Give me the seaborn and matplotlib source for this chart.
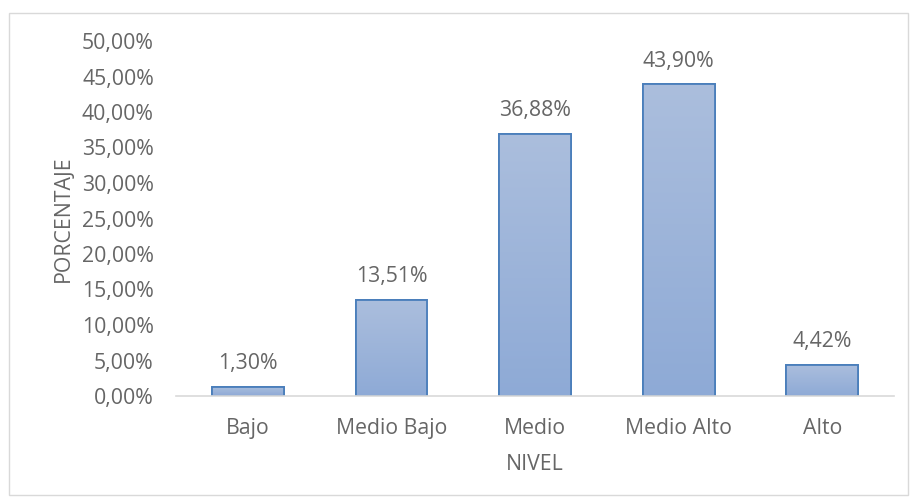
import numpy as np
import pandas as pd
import matplotlib
matplotlib.use("Agg")
import matplotlib.pyplot as plt
from matplotlib.colors import LinearSegmentedColormap
from matplotlib.patches import Rectangle
import seaborn as sns

categories = ["Bajo", "Medio Bajo", "Medio", "Medio Alto", "Alto"]
values = [1.30, 13.51, 36.88, 43.90, 4.42]
yticks = [0, 5, 10, 15, 20, 25, 30, 35, 40, 45, 50]

sns.set_theme(style="white")
plt.rcParams["font.family"] = ["Open Sans", "DejaVu Sans"]

text_color = "#666666"
fs = 15.3
df = pd.DataFrame({"nivel": categories, "pct": values})

fig = plt.figure(figsize=(9.11, 5.01), dpi=100)
ax = fig.add_axes([176 / 911, 1 - 396 / 501, 718 / 911, 355 / 501])

sns.barplot(data=df, x="nivel", y="pct", ax=ax, width=0.5,
            color="#9db3d9", edgecolor="#4a7ebb", linewidth=1.3,
            saturation=1)

# vertical gradient fill on each bar
grad = LinearSegmentedColormap.from_list("g", ["#8eaad6", "#abbedd"])
ramp = np.linspace(0, 1, 256).reshape(-1, 1)
for p in ax.patches:
    x0, y0 = p.get_x(), p.get_y()
    w, h = p.get_width(), p.get_height()
    im = ax.imshow(ramp, cmap=grad, aspect="auto", origin="lower",
                   extent=[x0, x0 + w, y0, y0 + h], zorder=p.get_zorder() + 0.1)
    im.set_clip_path(p)
    ax.add_patch(Rectangle((x0, y0), w, h, fill=False, edgecolor="#4a7ebb",
                           linewidth=1.3, zorder=p.get_zorder() + 0.2))

for i, v in enumerate(values):
    ax.text(i, v + 1.8, f"{v:.2f}%".replace(".", ","), ha="center", va="bottom",
            fontsize=fs, color=text_color)

ax.set_xlim(-0.5, len(categories) - 0.5)
ax.set_ylim(0, 50)
ax.set_yticks(yticks)
ax.set_yticklabels([f"{t:.2f}%".replace(".", ",") for t in yticks])
ax.tick_params(axis="both", labelsize=fs, colors=text_color, length=0)
ax.tick_params(axis="y", pad=16)
ax.tick_params(axis="x", pad=16)
for s in ["top", "right", "left"]:
    ax.spines[s].set_visible(False)
ax.spines["bottom"].set_color("#d9d9d9")
ax.spines["bottom"].set_linewidth(1.2)

ax.set_xlabel("NIVEL", fontsize=fs, color=text_color, labelpad=11)
ax.set_ylabel("PORCENTAJE", fontsize=fs, color=text_color, labelpad=6)

# chart area frame
fig.patches.append(Rectangle((9 / 911, 6 / 501), 899 / 911, 482 / 501,
                             transform=fig.transFigure, fill=False,
                             edgecolor="#d9d9d9", linewidth=1.0))

fig.savefig("out.png", dpi=100)
